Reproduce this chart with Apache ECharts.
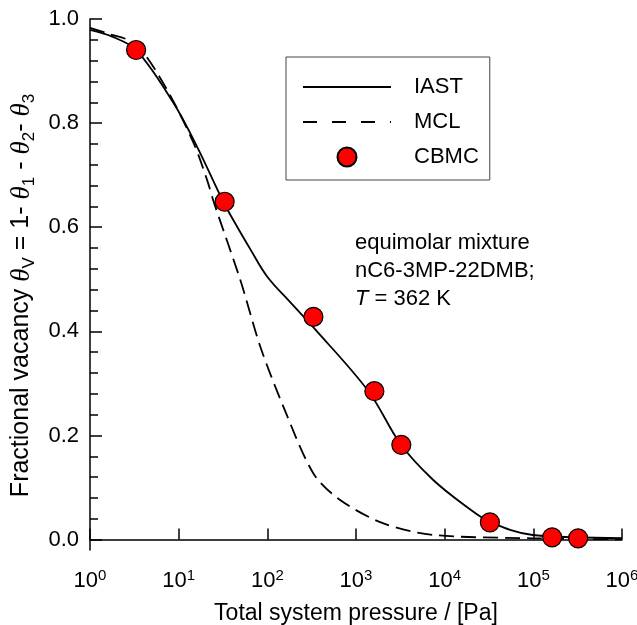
<!DOCTYPE html>
<html>
<head>
<meta charset="utf-8">
<script src="https://cdn.jsdelivr.net/npm/echarts@6/dist/echarts.min.js"></script>
<style>
html,body{margin:0;padding:0;background:#fff;}
#chart{width:637px;height:625px;}
</style>
</head>
<body>
<div id="chart"></div>
<script>
// Data (total system pressure in Pa, fractional vacancy)
const iastP = [1, 1.78, 3.31, 8.71, 16.1, 31.8, 41.3, 64.2, 98.9, 181, 329, 1380, 3220, 7380, 17700, 32400, 98600, 1000000];
const iastV = [0.979, 0.966, 0.9405, 0.839, 0.755, 0.649, 0.614, 0.558, 0.506, 0.456, 0.408, 0.285, 0.182, 0.115, 0.063, 0.034, 0.0088, 0.003];
const mclP = [1, 1.56, 3.31, 7.4, 14.8, 20.9, 24.8, 49.5, 83.2, 152, 331, 662, 2040, 7450, 99500, 1000000];
const mclV = [0.983, 0.9725, 0.951, 0.864, 0.761, 0.691, 0.649, 0.499, 0.371, 0.255, 0.127, 0.076, 0.031, 0.009, 0.0025, 0.0006];
const cbmcP = [3.31, 33, 331, 1611, 3245, 32360, 163000, 320000];
const cbmcV = [0.9405, 0.649, 0.428, 0.285, 0.182, 0.033, 0.0044, 0.0025];
const xTicks = [1, 10, 100, 1000, 10000, 100000, 1000000];
const yMajor = [0, 0.2, 0.4, 0.6, 0.8, 1.0];
const yMinor = [0.04, 0.08, 0.12, 0.16, 0.24, 0.28, 0.32, 0.36, 0.44, 0.48, 0.52, 0.56, 0.64, 0.68, 0.72, 0.76, 0.84, 0.88, 0.92, 0.96];
const yMin = -0.02, yMax = 1.0;

const zip = (a, b) => a.map((v, i) => [v, b[i]]);
const FONT = 'Liberation Sans';
const FS = 22;

const chart = echarts.init(document.getElementById('chart'), null, {renderer: 'canvas'});
chart.setOption({
  animation: false,
  backgroundColor: '#fff',
  grid: {left: 90, right: 15, top: 19, bottom: 75, containLabel: false, outerBoundsMode: 'none'},
  xAxis: {
    type: 'log', logBase: 10, min: xTicks[0], max: xTicks[xTicks.length - 1],
    name: 'Total system pressure / [Pa]', nameLocation: 'middle', nameGap: 52,
    nameTextStyle: {fontFamily: FONT, fontSize: 23, color: '#000'},
    axisLine: {lineStyle: {color: '#000', width: 1.5}},
    axisTick: {inside: true, length: 11, lineStyle: {color: '#000', width: 1.5}},
    minorTick: {show: false},
    splitLine: {show: false},
    axisLabel: {
      margin: 18,
      formatter: v => '{b|10}{s|' + Math.round(Math.log10(v)) + '}',
      rich: {
        b: {fontFamily: FONT, fontSize: FS, color: '#000'},
        s: {fontFamily: FONT, fontSize: 15, color: '#000', verticalAlign: 'top', padding: [0, 0, 10, 0]}
      }
    }
  },
  yAxis: [{
    type: 'value', min: yMin, max: yMax,
    name: '{t|Fractional vacancy }{g|θ}{s|V}{t| = 1- }{g|θ}{s|1}{t| - }{g|θ}{s|2}{t|- }{g|θ}{s|3}',
    nameLocation: 'middle', nameGap: 52,
    nameTextStyle: {
      padding: [0, 22, 0, 0],
      rich: {
        t: {fontFamily: FONT, fontSize: 25, color: '#000', lineHeight: 32, verticalAlign: 'middle'},
        g: {fontFamily: 'Liberation Serif', fontStyle: 'italic', fontSize: 27, color: '#000', lineHeight: 32, verticalAlign: 'middle'},
        s: {fontFamily: FONT, fontSize: 17, color: '#000', lineHeight: 32, verticalAlign: 'bottom', padding: [10, 0, 0, 0]}
      }
    },
    axisLine: {show: true, lineStyle: {color: '#000', width: 1.5}},
    axisTick: {show: true, inside: true, length: 12, customValues: yMajor, lineStyle: {color: '#000', width: 1.5}},
    splitLine: {show: false},
    axisLabel: {margin: 11, padding: [6, 0, 0, 0], fontFamily: FONT, fontSize: FS, color: '#000', customValues: yMajor, formatter: v => v.toFixed(1)}
  }, {
    type: 'value', min: yMin, max: yMax, position: 'left',
    axisLine: {show: false},
    axisTick: {show: true, inside: true, length: 8, customValues: yMinor, lineStyle: {color: '#000', width: 1.5}},
    axisLabel: {show: false},
    splitLine: {show: false}
  }],
  legend: {
    orient: 'vertical', left: 286, top: 57,
    padding: [19, 11, 12, 16], itemGap: 13,
    itemWidth: 88, itemHeight: 19,
    borderColor: '#444', borderWidth: 1,
    textStyle: {fontFamily: FONT, fontSize: FS, color: '#000', padding: [0, 0, 0, 18]},
    data: [
      {name: 'IAST', itemStyle: {color: 'rgba(0,0,0,0)', borderWidth: 0, opacity: 0}},
      {name: 'MCL', itemStyle: {color: 'rgba(0,0,0,0)', borderWidth: 0, opacity: 0}, lineStyle: {type: [14, 15]}},
      {name: 'CBMC'}
    ]
  },
  series: [
    {name: 'IAST', type: 'line', smooth: 0.35, symbol: 'none', data: zip(iastP, iastV),
     lineStyle: {color: '#000', width: 1.8}, itemStyle: {color: '#000'}, z: 2},
    {name: 'MCL', type: 'line', smooth: 0.3, symbol: 'none', data: zip(mclP, mclV),
     lineStyle: {color: '#000', width: 1.8, type: [15, 7]}, itemStyle: {color: '#000'}, z: 2},
    {name: 'CBMC', type: 'scatter', symbol: 'circle', symbolSize: 19, data: zip(cbmcP, cbmcV),
     itemStyle: {color: '#ff0000', borderColor: '#000', borderWidth: 1.2, opacity: 1}, z: 5}
  ],
  graphic: [{
    type: 'text', left: 355, top: 232,
    style: {
      text: '{a|equimolar mixture}\n{a|nC6-3MP-22DMB;}\n{i|T}{a| = 362 K}',
      rich: {
        a: {fontFamily: FONT, fontSize: FS, color: '#000', lineHeight: 28},
        i: {fontFamily: FONT, fontStyle: 'italic', fontSize: FS, color: '#000', lineHeight: 28}
      }
    }
  }]
});
</script>
</body>
</html>
